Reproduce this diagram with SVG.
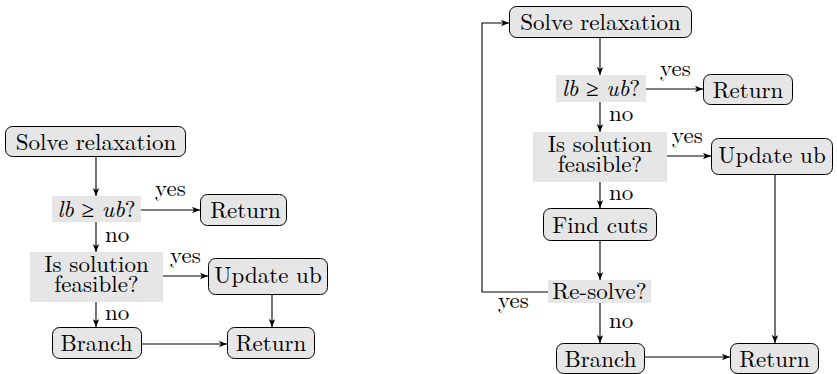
<svg xmlns="http://www.w3.org/2000/svg" width="837" height="374" viewBox="0 0 837 374">
<defs>
<marker id="ah" viewBox="0 0 10 8" refX="10" refY="4" markerWidth="8" markerHeight="6.4" markerUnits="userSpaceOnUse" orient="auto">
<path d="M0,0 L10,4 L0,8 L2.5,4 Z" fill="#000"/>
</marker>
<style>
.box{fill:#e6e6e6;stroke:#000;stroke-width:1}
.dec{fill:#e6e6e6;stroke:none}
.t{font-family:'Latin Modern Roman',serif;font-size:23px;fill:#000;text-anchor:middle}
.l{font-family:'Latin Modern Roman',serif;font-size:23px;fill:#000}
.i{font-style:italic}
.a{fill:none;stroke:#000;stroke-width:1.1;marker-end:url(#ah)}
</style>
</defs>
<rect width="837" height="374" fill="#fff"/>

<!-- Left diagram -->
<g id="L-solve"><rect class="box" x="5.5" y="126.5" width="180" height="30" rx="7"/><text class="t" x="96" y="150">Solve relaxation</text></g>
<g id="L-lbub"><rect class="dec" x="52" y="196" width="89" height="26"/><text class="t" x="96.5" y="217"><tspan class="i">lb</tspan> ≥ <tspan class="i">ub</tspan>?</text></g>
<g id="L-return1"><rect class="box" x="200.5" y="194.5" width="86" height="31" rx="7"/><text class="t" x="245.5" y="218">Return</text></g>
<g id="L-feas"><rect class="dec" x="30" y="252" width="133" height="50"/><text class="t" x="96.5" y="272">Is solution</text><text class="t" x="96.5" y="292">feasible?</text></g>
<g id="L-update"><rect class="box" x="208.5" y="258.5" width="119" height="36" rx="7"/><text class="t" x="268" y="283">Update ub</text></g>
<g id="L-branch"><rect class="box" x="52.5" y="327.5" width="89" height="31" rx="7"/><text class="t" x="96.5" y="351">Branch</text></g>
<g id="L-return2"><rect class="box" x="227.5" y="327.5" width="87" height="31" rx="7"/><text class="t" x="271" y="351">Return</text></g>

<g id="L-edges">
<line class="a" x1="96" y1="157" x2="96" y2="196"/>
<line class="a" x1="141" y1="210" x2="200" y2="210"/>
<line class="a" x1="96" y1="222" x2="96" y2="252"/>
<line class="a" x1="163" y1="276" x2="208" y2="276"/>
<line class="a" x1="96" y1="302" x2="96" y2="327"/>
<line class="a" x1="272" y1="295" x2="272" y2="327"/>
<line class="a" x1="142" y1="344" x2="227" y2="344"/>
<text class="l" x="155" y="196">yes</text>
<text class="l" x="105" y="242">no</text>
<text class="l" x="170" y="263">yes</text>
<text class="l" x="105" y="320">no</text>
</g>

<!-- Right diagram -->
<g id="R-solve"><rect class="box" x="509.5" y="6.5" width="182" height="31" rx="7"/><text class="t" x="600.5" y="30">Solve relaxation</text></g>
<g id="R-lbub"><rect class="dec" x="556" y="75" width="90" height="27"/><text class="t" x="601" y="96"><tspan class="i">lb</tspan> ≥ <tspan class="i">ub</tspan>?</text></g>
<g id="R-return1"><rect class="box" x="703.5" y="74.5" width="89" height="30" rx="7"/><text class="t" x="748" y="98">Return</text></g>
<g id="R-feas"><rect class="dec" x="533" y="132" width="134" height="50"/><text class="t" x="600" y="152">Is solution</text><text class="t" x="600" y="172">feasible?</text></g>
<g id="R-update"><rect class="box" x="711.5" y="138.5" width="121" height="36" rx="7"/><text class="t" x="772" y="163">Update ub</text></g>
<g id="R-cuts"><rect class="box" x="543.5" y="208.5" width="113" height="32" rx="7"/><text class="t" x="600" y="233">Find cuts</text></g>
<g id="R-resolve"><rect class="dec" x="548" y="280" width="103" height="23"/><text class="t" x="599.5" y="299">Re-solve?</text></g>
<g id="R-branch"><rect class="box" x="556.5" y="343.5" width="88" height="30" rx="7"/><text class="t" x="600.5" y="367">Branch</text></g>
<g id="R-return2"><rect class="box" x="730.5" y="343.5" width="88" height="30" rx="7"/><text class="t" x="774.5" y="367">Return</text></g>

<g id="R-edges">
<line class="a" x1="600" y1="38" x2="600" y2="75"/>
<line class="a" x1="646" y1="89" x2="703" y2="89"/>
<line class="a" x1="600" y1="102" x2="600" y2="132"/>
<line class="a" x1="667" y1="156" x2="711" y2="156"/>
<line class="a" x1="600" y1="182" x2="600" y2="208"/>
<line class="a" x1="600" y1="241" x2="600" y2="280"/>
<line class="a" x1="600" y1="303" x2="600" y2="343"/>
<line class="a" x1="775" y1="175" x2="775" y2="343"/>
<line class="a" x1="645" y1="357" x2="730" y2="357"/>
<polyline class="a" points="548,292 482,292 482,23 509,23"/>
<text class="l" x="660" y="76">yes</text>
<text class="l" x="609" y="121">no</text>
<text class="l" x="672" y="143">yes</text>
<text class="l" x="609" y="200">no</text>
<text class="l" x="498" y="308">yes</text>
<text class="l" x="609" y="328">no</text>
</g>
</svg>
